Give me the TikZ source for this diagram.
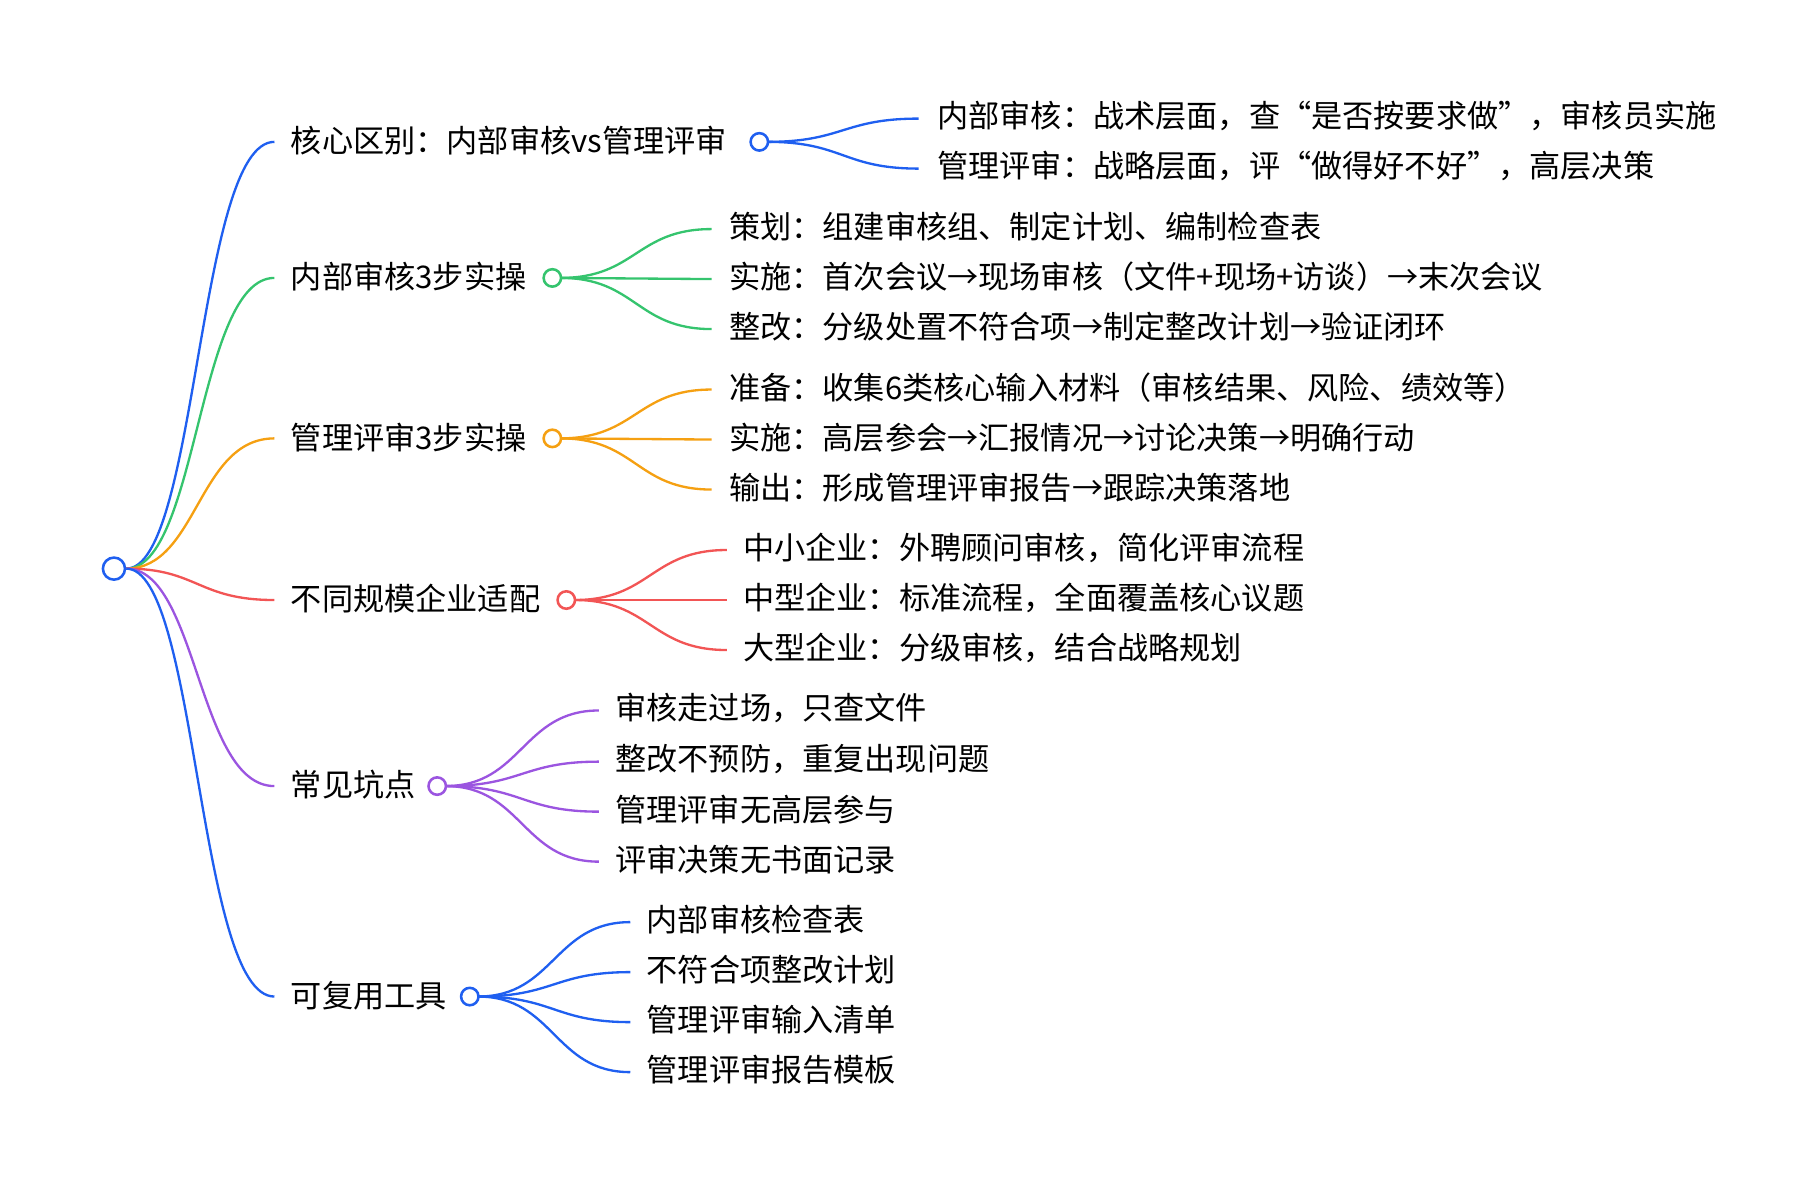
\documentclass[tikz,border=0pt]{standalone}
\usepackage{fontspec}
\setmainfont{Noto Sans CJK SC}
\begin{document}
\begin{tikzpicture}[x=1pt,y=-1pt,
  txt/.style={anchor=west,inner sep=0pt,yshift=2pt,font=\fontsize{26.8}{27}\selectfont},
  dot/.style={circle,draw,line width=2.2pt,fill=white,inner sep=0pt,minimum size=15pt},
  ln/.style={line width=2pt}]
\definecolor{cb}{HTML}{1F5FF0}
\definecolor{cg}{HTML}{35C46E}
\definecolor{co}{HTML}{F5A012}
\definecolor{cr}{HTML}{F25555}
\definecolor{cp}{HTML}{9B55E0}
\useasboundingbox (0,0) rectangle (1560,1016);
\node[dot,draw=cb,minimum size=19pt] (root) at (98,489) {};
\foreach \n/\y/\c in {a/122/cb,b/239/cg,c/377/co,d/516/cr,e/676/cp,f/857/cb}{
  \coordinate (e\n) at (236,\y);
  \draw[ln,\c] (root.east) .. controls (170,489) and (170,\y) .. (e\n);
}
\node[txt] (ta) at (250,123) {核心区别：内部审核vs管理评审};
\node[txt] (tb) at (250,240) {内部审核3步实操};
\node[txt] (tc) at (250,378) {管理评审3步实操};
\node[txt] (td) at (250,517) {不同规模企业适配};
\node[txt] (te) at (250,677) {常见坑点};
\node[txt] (tf) at (250,858) {可复用工具};
\foreach \p/\c/\cx/\cy/\xe/\xt/\lst in {
  ca/cb/653/122/790/806/{102/内部审核：战术层面，查“是否按要求做”，审核员实施,145/管理评审：战略层面，评“做得好不好”，高层决策},
  cbn/cg/475/239/612/627/{197/策划：组建审核组、制定计划、编制检查表,240/实施：首次会议→现场审核（文件+现场+访谈）→末次会议,283/整改：分级处置不符合项→制定整改计划→验证闭环},
  cc/co/475/377/612/627/{335/准备：收集6类核心输入材料（审核结果、风险、绩效等）,378/实施：高层参会→汇报情况→讨论决策→明确行动,421/输出：形成管理评审报告→跟踪决策落地},
  cd/cr/487/516/625/639/{473/中小企业：外聘顾问审核，简化评审流程,516/中型企业：标准流程，全面覆盖核心议题,559/大型企业：分级审核，结合战略规划},
  ce/cp/376/676/515/529/{611/审核走过场，只查文件,655/整改不预防，重复出现问题,698/管理评审无高层参与,741/评审决策无书面记录},
  cf/cb/404/857/542/556/{793/内部审核检查表,836/不符合项整改计划,879/管理评审输入清单,922/管理评审报告模板}}{
  \coordinate (\p s) at (\cx+7,\cy);
  \pgfmathsetmacro{\mx}{(\cx+7+\xe)/2}
  \foreach \y/\t in \lst {
    \draw[ln,\c] (\p s) .. controls (\mx,\cy) and (\mx,\y) .. (\xe,\y);
    \node[txt] at (\xt,\y) {\t};
  }
  \node[dot,draw=\c] (\p) at (\cx,\cy) {};
}
\end{tikzpicture}
\end{document}
